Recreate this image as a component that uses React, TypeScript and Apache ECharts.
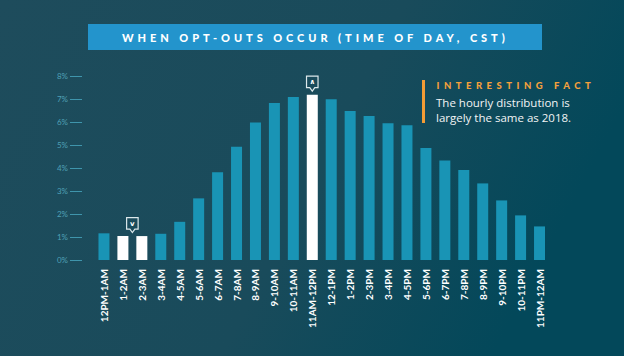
import React, { useEffect, useRef } from 'react';
import * as echarts from 'echarts';

const categories = [
  '12PM-1AM', '1-2AM', '2-3AM', '3-4AM', '4-5AM', '5-6AM', '6-7AM', '7-8AM',
  '8-9AM', '9-10AM', '10-11AM', '11AM-12PM', '12-1PM', '1-2PM', '2-3PM', '3-4PM',
  '4-5PM', '5-6PM', '6-7PM', '7-8PM', '8-9PM', '9-10PM', '10-11PM', '11PM-12AM',
];
const shares = [
  1.16, 1.04, 1.04, 1.14, 1.66, 2.68, 3.81, 4.92, 5.98, 6.83, 7.09, 7.19,
  6.99, 6.48, 6.26, 5.95, 5.86, 4.87, 4.33, 3.91, 3.33, 2.59, 1.94, 1.46,
];
const highlighted = ['1-2AM', '2-3AM', '11AM-12PM'];
const yTickValues = [0, 1, 2, 3, 4, 5, 6, 7, 8];

const TITLE = 'WHEN OPT-OUTS OCCUR (TIME OF DAY, CST)';
const FACT_HEAD = 'INTERESTING FACT';
const FACT_BODY = ['The hourly distribution is', 'largely the same as 2018.'];

const BAR = '#1994b5';
const FONT = 'Lato, "Open Sans", sans-serif';

export default function App() {
  const ref = useRef<HTMLDivElement>(null);

  useEffect(() => {
    if (!ref.current) return;
    const chart = echarts.init(ref.current, undefined, { renderer: 'svg' });

    chart.setOption({
      animation: false,
      backgroundColor: new echarts.graphic.LinearGradient(0, 0, 1, 0.3, [
        { offset: 0, color: '#1e4c5c' },
        { offset: 0.6, color: '#194b5b' },
        { offset: 1, color: '#03485a' },
      ]),
      grid: { left: 94.5, right: 75, top: 76, bottom: 96 },
      xAxis: {
        type: 'category',
        data: categories,
        axisLine: { show: false },
        axisTick: { show: false },
        axisLabel: {
          interval: 0,
          rotate: 90,
          margin: 9,
          color: '#ffffff',
          fontSize: 10,
          fontWeight: 'bold',
          fontFamily: FONT,
        },
      },
      yAxis: {
        type: 'value',
        min: yTickValues[0],
        max: yTickValues[yTickValues.length - 1],
        interval: 1,
        offset: 12.5,
        axisLine: { show: false },
        axisTick: { show: true, length: 12, lineStyle: { color: '#3f95ac', width: 1 } },
        splitLine: { show: false },
        axisLabel: {
          formatter: '{value}%',
          margin: 14,
          color: '#4fa0b6',
          fontSize: 8,
          fontFamily: FONT,
        },
      },
      series: [
        {
          type: 'bar',
          barWidth: 11,
          data: shares.map((v, i) => ({
            value: v,
            itemStyle: { color: highlighted.includes(categories[i]) ? '#ffffff' : BAR },
          })),
        },
      ],
    });

    const xOf = (c: string) => chart.convertToPixel({ xAxisIndex: 0 }, c) as number;
    const yOf = (v: number) => chart.convertToPixel({ yAxisIndex: 0 }, v) as number;

    const callout = (cx: number, tipY: number, glyph: string, id: string) => {
      const w = 11.5;
      const h = 11.5;
      const p = 3.5;
      const top = tipY - p - h;
      return [
        {
          type: 'polygon',
          id: id + '-box',
          silent: true,
          shape: {
            points: [
              [cx - w / 2, top],
              [cx + w / 2, top],
              [cx + w / 2, top + h],
              [cx + 2.5, top + h],
              [cx, tipY],
              [cx - 2.5, top + h],
              [cx - w / 2, top + h],
            ],
          },
          style: { fill: 'rgba(0,0,0,0)', stroke: '#dce8eb', lineWidth: 1.2 },
        },
        {
          type: 'text',
          id: id + '-txt',
          silent: true,
          style: {
            x: cx,
            y: top + h / 2 + 0.5,
            text: glyph,
            fill: '#ffffff',
            font: 'bold 7px "DejaVu Sans", sans-serif',
            textAlign: 'center',
            textVerticalAlign: 'middle',
          },
        },
      ];
    };

    const minIdx = [1, 2];
    const maxIdx = shares.indexOf(Math.max(...shares));
    const minX = (xOf(categories[minIdx[0]]) + xOf(categories[minIdx[1]])) / 2;
    const minTip = yOf(shares[minIdx[0]]) - 3.5;
    const maxX = xOf(categories[maxIdx]);
    const maxTip = yOf(shares[maxIdx]) - 3.5;

    chart.setOption({
      graphic: [
        {
          type: 'rect',
          id: 'title-box',
          silent: true,
          shape: { x: 88, y: 24, width: 454, height: 26 },
          style: { fill: '#2394cc' },
        },
        {
          type: 'text',
          id: 'title-text',
          silent: true,
          style: {
            x: 122,
            y: 37.5,
            text: TITLE,
            fill: '#ffffff',
            font: '900 11px ' + FONT,
            textAlign: 'left',
            textVerticalAlign: 'middle',
          },
        },
        {
          type: 'rect',
          id: 'fact-bar',
          silent: true,
          shape: { x: 422, y: 80, width: 3, height: 43 },
          style: { fill: '#f39c35' },
        },
        {
          type: 'text',
          id: 'fact-head',
          silent: true,
          style: {
            x: 436.5,
            y: 85.5,
            text: FACT_HEAD,
            fill: '#f5a03c',
            font: '900 9.5px ' + FONT,
            textAlign: 'left',
            textVerticalAlign: 'middle',
          },
        },
        {
          type: 'text',
          id: 'fact-body',
          silent: true,
          style: {
            x: 436,
            y: 94.5,
            text: FACT_BODY.join('\n'),
            fill: '#f2f4f5',
            font: '11.5px "Open Sans", sans-serif',
            lineHeight: 15.5,
            textAlign: 'left',
            textVerticalAlign: 'top',
          },
        },
        ...callout(minX, minTip, 'v', 'min'),
        ...callout(maxX, maxTip, '\u2227', 'max'),
      ],
    });

    const spacing: Record<string, string> = { [TITLE]: '3.95', [FACT_HEAD]: '4.5' };
    const applySpacing = () => {
      const root = ref.current;
      if (!root) return;
      root.querySelectorAll('text').forEach((t) => {
        const s = spacing[(t.textContent || '').trim()];
        if (s) t.setAttribute('letter-spacing', s);
      });
    };
    applySpacing();
    chart.on('finished', applySpacing);
    const timer = setTimeout(applySpacing, 50);

    return () => {
      clearTimeout(timer);
      chart.dispose();
    };
  }, []);

  return (
    <div
      ref={ref}
      style={{ position: 'absolute', left: 0, top: 0, width: 624, height: 356 }}
    />
  );
}
